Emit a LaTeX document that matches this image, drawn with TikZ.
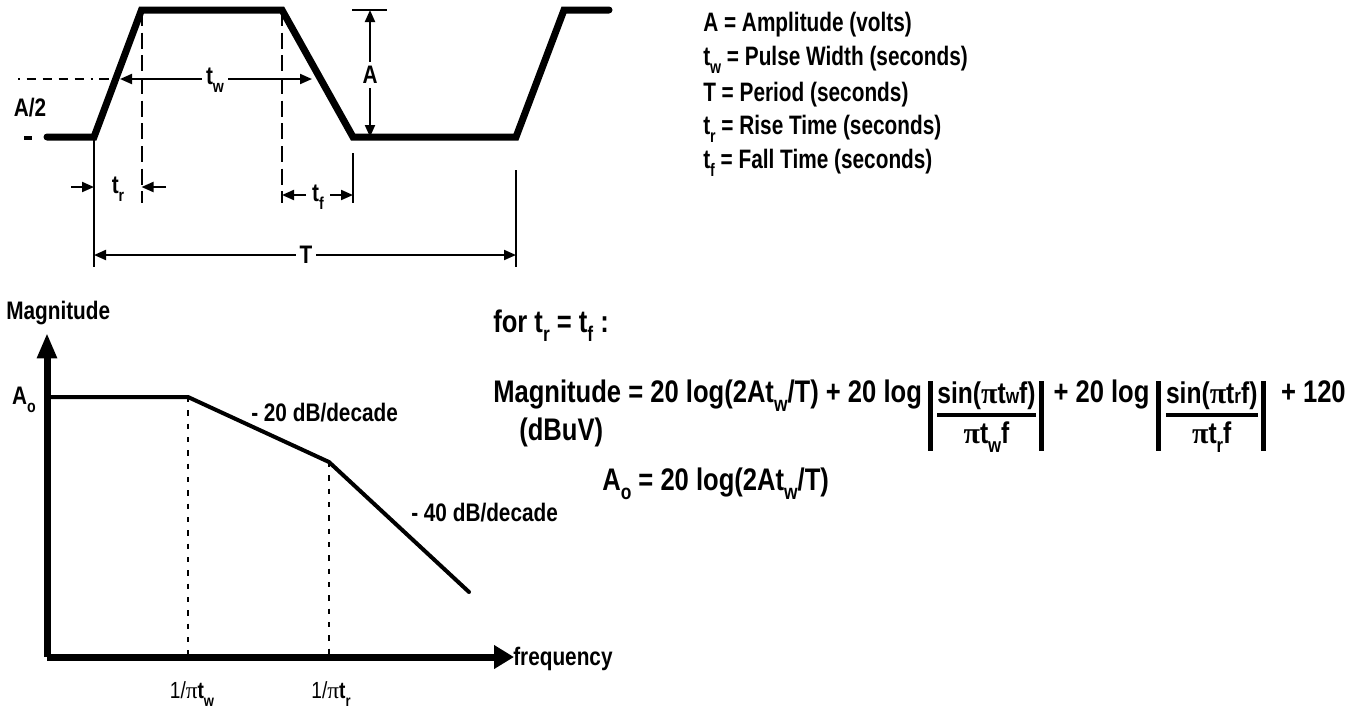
\documentclass[tikz,border=0pt]{standalone}
\usepackage{fontspec}
\setmainfont{Liberation Sans}[FakeStretch=0.82]
\newfontfamily\legfont{Liberation Sans}[FakeStretch=0.78]
\newfontfamily\piserif{Liberation Serif}
\usetikzlibrary{arrows.meta,calc}
\newcommand\lo[1]{\raisebox{-0.32em}{\scalebox{0.68}{#1}}}
\newcommand\mypi{{\piserif π}}
\tikzset{
  x=0.75pt, y=-0.75pt,
  lab/.style={font=\bfseries\fontsize{19}{22}\selectfont, inner sep=0pt},
  leg/.style={font=\legfont\bfseries\fontsize{20}{23}\selectfont, inner sep=0pt, anchor=west},
  wlab/.style={lab, fill=white, inner xsep=3pt, inner ysep=1pt},
  fm/.style={font=\bfseries\fontsize{23.4}{27}\selectfont, inner sep=0pt},
  fn/.style={font=\bfseries\fontsize{22.5}{26}\selectfont, inner sep=0pt},
  sl/.style={font=\fontsize{17.5}{21}\selectfont, inner sep=0pt},
  wave/.style={line width=5.25pt, line cap=round, line join=miter},
  dim/.style={line width=1.5pt},
  tip/.style={dim, -{Triangle[length=9pt,width=7.5pt]}},
  tips/.style={dim, {Triangle[length=9pt,width=7.5pt]}-{Triangle[length=9pt,width=7.5pt]}},
  dsh/.style={line width=1.5pt, dash pattern=on 12pt off 5pt},
  hdsh/.style={line width=1.5pt, dash pattern=on 1.5pt off 5pt on 7pt off 5pt on 7pt off 5pt on 7pt off 5pt on 7pt off 5pt},
  axis/.style={line width=5.25pt},
  curve/.style={line width=3pt, line cap=round},
  dot/.style={line width=1.6pt, dash pattern=on 4pt off 6pt},
  bar/.style={line width=3.75pt},
  fracline/.style={line width=3pt},
}
\begin{document}
\begin{tikzpicture}
\useasboundingbox (0,0) rectangle (1351,708);
% ---------------- waveform ----------------
\coordinate (w0) at (47,137);
\coordinate (w1) at (94,137);
\coordinate (w2) at (141.5,10);
\coordinate (w3) at (282,10);
\coordinate (w4) at (353,137);
\coordinate (w5) at (516,137);
\coordinate (w6) at (564,10);
\coordinate (w7) at (609,10);
\draw[wave] (w0) -- (w1) -- (w2) -- (w3) -- (w4) -- (w5) -- (w6) -- (w7);
\coordinate (k1) at (24,138);
\coordinate (k2) at (32,138);
\draw[line width=2.5pt] (k1) -- (k2);
% A/2 dashed level
\coordinate (h0) at (18,79);
\coordinate (h1) at (116,79);
\draw[hdsh] (h0) -- (h1);
\node[lab] (half) at (30,108) {A/2};
% dashed verticals
\coordinate (d2b) at (141.5,203);
\coordinate (d3b) at (282,203);
\draw[dsh] (w2) -- (d2b);
\draw[dsh] (w3) -- (d3b);
% solid verticals
\coordinate (v1b) at (94,267);
\coordinate (v4t) at (353,153);
\coordinate (v4b) at (353,203);
\coordinate (v5t) at (516,170);
\coordinate (v5b) at (516,267);
\draw[dim] (w1) -- (v1b);
\draw[dim] (v4t) -- (v4b);
\draw[dim] (v5t) -- (v5b);
% t_w
\coordinate (twl) at (120,79);
\coordinate (twr) at (312,79);
\draw[tips] (twl) -- (twr);
\node[wlab] (tw) at (215,80) {t\lo{w}};
% t_r
\coordinate (tr1) at (71,187);
\coordinate (tr2) at (94,187);
\coordinate (tr3) at (166,187);
\coordinate (tr4) at (141.5,187);
\draw[tip] (tr1) -- (tr2);
\draw[tip] (tr3) -- (tr4);
\node[lab] (trl) at (118,189) {t\lo{r}};
% t_f
\coordinate (tf1) at (306,195);
\coordinate (tf2) at (282,195);
\coordinate (tf3) at (330,195);
\coordinate (tf4) at (353,195);
\draw[tip] (tf1) -- (tf2);
\draw[tip] (tf3) -- (tf4);
\node[lab] (tfl) at (318,197) {t\lo{f}};
% T
\coordinate (Tl) at (94,255);
\coordinate (Tr) at (516,255);
\draw[tips] (Tl) -- (Tr);
\node[wlab] (Tlab) at (306,255) {T};
% A
\coordinate (At) at (370,10);
\coordinate (Ab) at (370,137);
\coordinate (Ak1) at (352,10);
\coordinate (Ak2) at (387,10);
\draw[dim] (Ak1) -- (Ak2);
\draw[tips] (At) -- (Ab);
\node[wlab, inner ysep=3pt] (Alab) at (370,75) {A};
% ---------------- legend ----------------
\node[leg] (l1) at (703,25) {A = Amplitude (volts)};
\node[leg] (l2) at (703,60) {t\lo{w} = Pulse Width (seconds)};
\node[leg] (l3) at (703,95) {T = Period (seconds)};
\node[leg] (l4) at (703,129) {t\lo{r} = Rise Time (seconds)};
\node[leg] (l5) at (703,163) {t\lo{f} = Fall Time (seconds)};
% ---------------- magnitude plot ----------------
\coordinate (O) at (47,657);
\coordinate (Ytip) at (47,333);
\coordinate (Xtip) at (514,657);
\draw[axis, -{Triangle[length=19pt,width=14pt]}] (O) -- (Ytip);
\draw[axis, -{Triangle[length=15pt,width=17pt]}] (O) -- (Xtip);
\coordinate (c0) at (47,397);
\coordinate (c1) at (188,397);
\coordinate (c2) at (329,462);
\coordinate (c3) at (469,592);
\draw[curve] (c0) -- (c1) -- (c2) -- (c3);
\coordinate (c1b) at (188,657);
\coordinate (c2b) at (329,657);
\draw[dot] (c1) -- (c1b);
\draw[dot] (c2) -- (c2b);
\node[lab, anchor=west] (mag) at (6,313) {Magnitude};
\node[lab] (Ao) at (24,400) {A\lo{o}};
\node[lab, anchor=west] (s20) at (251,413) {- 20 dB/decade};
\node[lab, anchor=west] (s40) at (411,513) {- 40 dB/decade};
\node[lab, anchor=west] (freq) at (513,659) {frequency};
\node[sl] (fw) at (192,694) {1/\mypi\textbf{t\lo{w}}};
\node[sl] (fr) at (331,694) {1/\mypi\textbf{t\lo{r}}};
% ---------------- formula ----------------
\node[fm, anchor=base west] (for) at (493,332) {for t\lo{r} = t\lo{f} :};
\node[fm, anchor=base west] (m1) at (493,402) {Magnitude = 20 log(2At\lo{w}/T) + 20 log};
\node[fm, anchor=base west] (dbuv) at (519,440) {(dBuV)};
% first |fraction|
\coordinate (b1) at ($(m1.base east)+(8,0)$);
\draw[bar] ($(b1)+(0,-21)$) -- ($(b1)+(0,49)$);
\node[fn, anchor=base west] (n1) at ($(b1)+(7,1)$) {sin(\mypi t\scalebox{0.7}{w}f)};
\draw[fracline] ($(n1.base west)+(0,12)$) -- ($(n1.base east)+(0,12)$);
\node[fn, anchor=base] (d1) at ($(n1.base)+(0,40)$) {\mypi t\lo{w}f};
\coordinate (b2) at ($(n1.base east)+(6,-1)$);
\draw[bar] ($(b2)+(0,-21)$) -- ($(b2)+(0,49)$);
% right part, anchored at the right edge
\node[fm, anchor=base east] (m3) at (1346,402) {+ 120};
\coordinate (b4) at ($(m3.base west)+(-17,0)$);
\draw[bar] ($(b4)+(0,-21)$) -- ($(b4)+(0,49)$);
\node[fn, anchor=base east] (n2) at ($(b4)+(-6,1)$) {sin(\mypi t\scalebox{0.7}{r}f)};
\draw[fracline] ($(n2.base west)+(0,12)$) -- ($(n2.base east)+(0,12)$);
\node[fn, anchor=base] (d2) at ($(n2.base)+(0,40)$) {\mypi t\lo{r}f};
\coordinate (b3) at ($(n2.base west)+(-7,-1)$);
\draw[bar] ($(b3)+(0,-21)$) -- ($(b3)+(0,49)$);
\node[fm, anchor=base east] (m2) at ($(b3)+(-9,0)$) {+ 20 log};
\node[fm, anchor=base west] (ao) at (602,490) {A\lo{o} = 20 log(2At\lo{w}/T)};
\end{tikzpicture}
\end{document}
